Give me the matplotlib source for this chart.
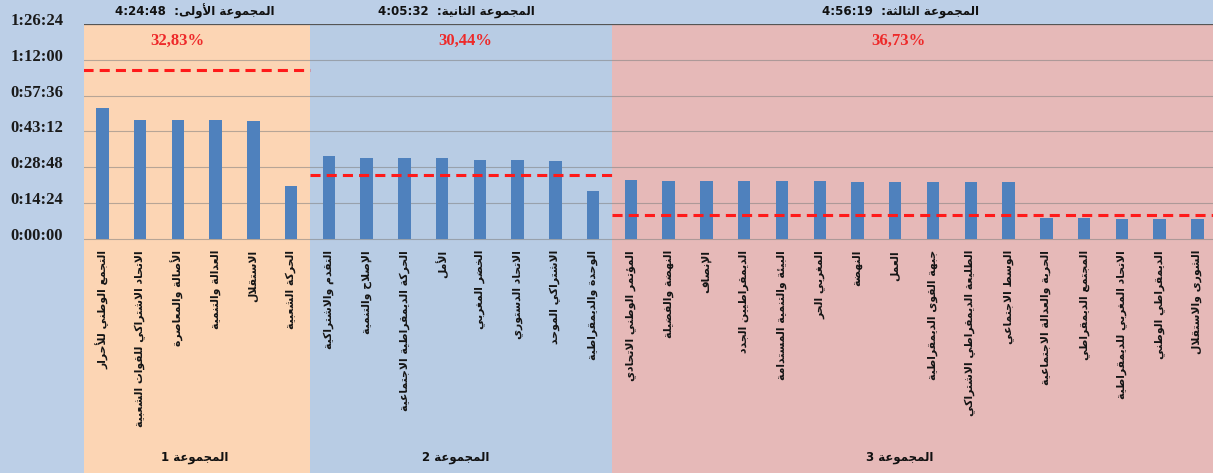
import numpy as np
import matplotlib
matplotlib.use("Agg")
import matplotlib.pyplot as plt
import matplotlib.transforms as mtransforms
from matplotlib.ticker import FuncFormatter

# Data (minutes per party)
group_names = ["المجموعة 1", "المجموعة 2", "المجموعة 3"]
group_titles = ["المجموعة الأولى:", "المجموعة الثانية:", "المجموعة الثالثة:"]
group_totals = ["4:24:48", "4:05:32", "4:56:19"]
group_shares = ["32,83%", "30,44%", "36,73%"]
group_refs = [68.1, 25.8, 9.6]  # dashed red lines (minutes)

parties_1 = ["التجمع الوطني للأحرار", "الاتحاد الاشتراكي للقوات الشعبية",
             "الأصالة والمعاصرة", "العدالة والتنمية", "الاستقلال", "الحركة الشعبية"]
values_1 = [52.6, 47.9, 47.8, 47.8, 47.4, 21.3]

parties_2 = ["التقدم والاشتراكية", "الإصلاح والتنمية", "الحركة الديمقراطية الاجتماعية",
             "الأمل", "الخضر المغربي", "الاتحاد الدستوري", "الاشتراكي الموحد",
             "الوحدة والديمقراطية"]
values_2 = [33.5, 32.4, 32.4, 32.4, 31.9, 31.9, 31.5, 19.4]

parties_3 = ["المؤتمر الوطني الاتحادي", "النهضة والفضيلة", "الإنصاف",
             "الديمقراطيين الجدد", "البيئة والتنمية المستدامة", "المغربي الحر",
             "النهضة", "العمل", "جبهة القوى الديمقراطية",
             "الطليعة الديمقراطي الاشتراكي", "الوسط الاجتماعي",
             "الحرية والعدالة الاجتماعية", "المجتمع الديمقراطي",
             "الاتحاد المغربي للديمقراطية", "الديمقراطي الوطني", "الشورى والاستقلال"]
values_3 = [23.6, 23.5, 23.4, 23.4, 23.2, 23.2, 23.1, 23.0, 22.9, 22.9, 22.8,
            8.4, 8.3, 8.2, 8.2, 8.2]

# minimal arabic shaping (matplotlib has no complex text layout)
DUAL = {'ئ': 0xFE89, 'ب': 0xFE8F, 'ت': 0xFE95, 'ث': 0xFE99, 'ج': 0xFE9D, 'ح': 0xFEA1,
        'خ': 0xFEA5, 'س': 0xFEB1, 'ش': 0xFEB5, 'ص': 0xFEB9, 'ض': 0xFEBD, 'ط': 0xFEC1,
        'ظ': 0xFEC5, 'ع': 0xFEC9, 'غ': 0xFECD, 'ف': 0xFED1, 'ق': 0xFED5, 'ك': 0xFED9,
        'ل': 0xFEDD, 'م': 0xFEE1, 'ن': 0xFEE5, 'ه': 0xFEE9, 'ي': 0xFEF1}
RIGHT = {'آ': 0xFE81, 'أ': 0xFE83, 'ؤ': 0xFE85, 'إ': 0xFE87, 'ا': 0xFE8D, 'ة': 0xFE93,
         'د': 0xFEA9, 'ذ': 0xFEAB, 'ر': 0xFEAD, 'ز': 0xFEAF, 'و': 0xFEED, 'ى': 0xFEEF}
LAM_ALEF = {'آ': 0xFEF5, 'أ': 0xFEF7, 'إ': 0xFEF9, 'ا': 0xFEFB}


def shape(s):
    toks = []
    i = 0
    while i < len(s):
        if s[i] == 'ل' and i + 1 < len(s) and s[i + 1] in LAM_ALEF:
            toks.append(('la', s[i + 1]))
            i += 2
        else:
            toks.append(('c', s[i]))
            i += 1

    def kind(t):
        if t[0] == 'la':
            return 'R'
        if t[1] in DUAL:
            return 'D'
        if t[1] in RIGHT:
            return 'R'
        return None

    out = []
    for j, t in enumerate(toks):
        k = kind(t)
        prev = kind(toks[j - 1]) if j > 0 else None
        nxt = kind(toks[j + 1]) if j + 1 < len(toks) else None
        jp = k is not None and prev == 'D'
        jn = k == 'D' and nxt is not None
        if t[0] == 'la':
            out.append(chr(LAM_ALEF[t[1]] + (1 if jp else 0)))
        elif k == 'D':
            f = 3 if (jp and jn) else 1 if jp else 2 if jn else 0
            out.append(chr(DUAL[t[1]] + f))
        elif k == 'R':
            out.append(chr(RIGHT[t[1]] + (1 if jp else 0)))
        else:
            out.append(t[1])
    return ''.join(out)[::-1]


parties = parties_1 + parties_2 + parties_3
values = values_1 + values_2 + values_3
sizes = [len(values_1), len(values_2), len(values_3)]

W, H = 1213, 473
fig = plt.figure(figsize=(W / 100, H / 100), dpi=100, facecolor='#bccfe7')
ax = fig.add_axes([84 / W, 0, (W - 84) / W, (H - 24) / H])
ax.set_facecolor('none')

band_colors = ['#fcd5b4', '#b8cce4', '#e6b9b8']
title_shift = [-0.05, -0.13, -0.37]
share_shift = [-0.5, 0.1, -0.42]
x = np.arange(len(values))
ax.set_xlim(-0.485, 29.415)
ax.set_ylim(-94.05, 86.4)

start = 0
for g in range(3):
    lo, hi = start - 0.5, start + sizes[g] - 0.5
    ax.axvspan(lo, hi, color=band_colors[g], zorder=0, lw=0)
    ax.plot([lo, hi], [group_refs[g]] * 2, color='#ff1a1a', lw=2.2,
            ls=(0, (3.3, 2)), zorder=4)
    cx = (lo + hi) / 2
    ax.text(cx + title_shift[g], 91.6, group_totals[g] + '  ' + shape(group_titles[g]),
            ha='center', va='center', fontsize=8.5, fontweight='bold',
            family=['DejaVu Sans'], color='#111111', clip_on=False)
    ax.text(cx + share_shift[g], 79.6, group_shares[g], ha='center', va='center',
            fontsize=12, fontweight='bold', family=['Liberation Serif'],
            color='#ee2a2a')
    name = group_names[g].split()
    ax.text(cx + title_shift[g], -88.0, name[1] + ' ' + shape(name[0]),
            ha='center', va='center', fontsize=8.5, fontweight='bold',
            family=['DejaVu Sans'], color='#111111')
    start += sizes[g]

for v in np.arange(0, 86.41, 14.4)[:-1]:
    ax.axhline(v, color='#7f7f7f', lw=0.8, alpha=0.55, zorder=1)
ax.axhline(86.4, color='#555555', lw=0.9, zorder=1)

ax.bar(x, values, width=0.33, color='#4f81bd', zorder=3)

for i, p in enumerate(parties):
    ax.text(i, -4.4, shape(p), rotation=90, ha='center', va='top',
            fontsize=7.8, fontweight='bold', family=['DejaVu Sans'],
            color='#151515')

ax.set_yticks(np.arange(0, 86.41, 14.4))
ax.yaxis.set_major_formatter(FuncFormatter(
    lambda v, pos: "%d:%02d:%02d" % (round(v * 60) // 3600,
                                     round(v * 60) % 3600 // 60,
                                     round(v * 60) % 60)))
ax.tick_params(axis='y', length=0, pad=15)
ax.tick_params(axis='x', bottom=False, labelbottom=False)
off = mtransforms.ScaledTranslation(0, 5 / 100, fig.dpi_scale_trans)
for t in ax.get_yticklabels():
    t.set_fontfamily('Liberation Serif')
    t.set_fontweight('bold')
    t.set_fontsize(12)
    t.set_color('#1a1a1a')
    t.set_transform(t.get_transform() + off)
for s in ax.spines.values():
    s.set_visible(False)

fig.savefig('out.png', dpi=100, facecolor=fig.get_facecolor())
